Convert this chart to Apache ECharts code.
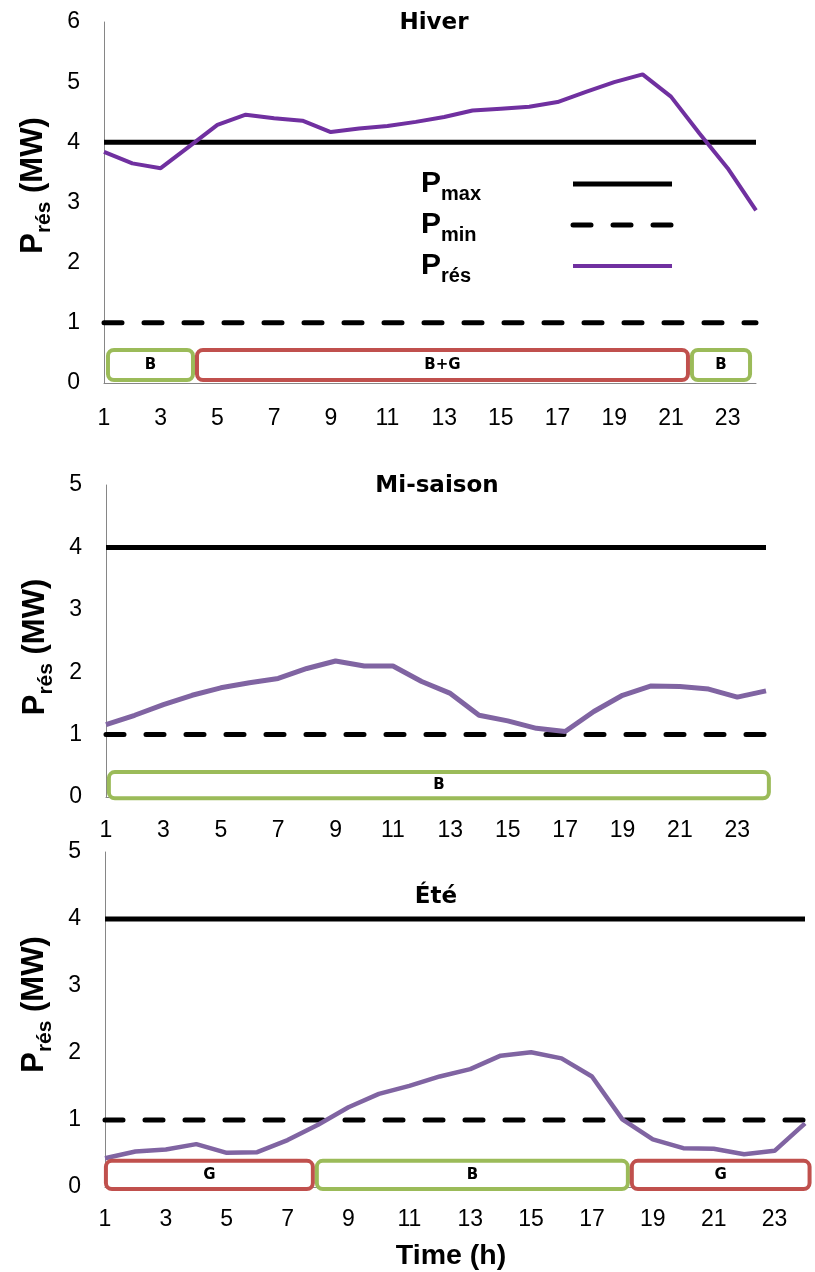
<!DOCTYPE html>
<html>
<head>
<meta charset="utf-8">
<script src="https://cdn.jsdelivr.net/npm/echarts@6/dist/echarts.min.js"></script>
<style>
html,body{margin:0;padding:0;background:#fff;}
#chart{width:815px;height:1272px;}
</style>
</head>
<body>
<div id="chart"></div>
<script>
// ---------- data ----------
const hours = ['1','2','3','4','5','6','7','8','9','10','11','12','13','14','15','16','17','18','19','20','21','22','23','24'];
const pMax = [4,4,4,4,4,4,4,4,4,4,4,4,4,4,4,4,4,4,4,4,4,4,4,4];
const pMin = [1,1,1,1,1,1,1,1,1,1,1,1,1,1,1,1,1,1,1,1,1,1,1,1];
const presHiver = [3.84,3.65,3.57,3.93,4.29,4.46,4.40,4.36,4.17,4.23,4.27,4.34,4.42,4.53,4.56,4.59,4.67,4.84,5.00,5.13,4.76,4.15,3.57,2.87];
const presMiSaison = [1.16,1.31,1.48,1.63,1.75,1.83,1.90,2.06,2.18,2.10,2.10,1.85,1.66,1.31,1.22,1.10,1.05,1.37,1.63,1.78,1.77,1.73,1.60,1.70];
const presEte = [0.43,0.53,0.56,0.64,0.51,0.52,0.70,0.93,1.19,1.39,1.51,1.65,1.76,1.96,2.01,1.92,1.65,1.01,0.71,0.58,0.57,0.49,0.54,0.95];
// periods [start hour, end hour, label]
const boxesHiver = [[1.14, 4.14, 'B'], [4.28, 21.6, 'B+G'], [21.74, 23.79, 'B']];
const boxesMiSaison = [[1.1, 24.1, 'B']];
const boxesEte = [[1.03, 7.83, 'G'], [7.96, 18.18, 'B'], [18.31, 24.15, 'G']];
const titles = ['Hiver', 'Mi-saison', 'Été'];
const yMaxes = [6, 5, 5];
const legendNames = ['Pmax', 'Pmin', 'Prés'];
const legendSubs = {'Pmax': 'max', 'Pmin': 'min', 'Prés': 'rés'};

// ---------- layout / style ----------
const ARIAL = "'Liberation Sans', Arial, sans-serif";
const TITLEFONT = "'DejaVu Sans', sans-serif";
const GREEN = '#9BBB59', RED = '#C0504D';
const panels = [
  {grid:{left:104, right:59, top:22, height:361}, title:{left:429, top:6}, purple:'#7030A0', pw:4, labelMargin:24, namePad:[0,0,0,34], boxY:[0.05,0.55], boxes:boxesHiver, pres:presHiver},
  {grid:{left:106, right:49, top:485, height:312}, title:{left:432, top:469}, purple:'#8064A2', pw:5, labelMargin:22, namePad:[0,12,0,0], boxY:[-0.02,0.40], boxes:boxesMiSaison, pres:presMiSaison},
  {grid:{left:105, right:10, top:852, height:335}, title:{left:431, top:880}, purple:'#8064A2', pw:4.5, labelMargin:21, namePad:[0,0,0,30], boxY:[-0.03,0.39], boxes:boxesEte, pres:presEte}
];

function boxRenderer(boxes, yLow, yHigh) {
  return function (params, api) {
    const b = boxes[params.dataIndex];
    const p0 = api.coord([b[0], yHigh]);
    const p1 = api.coord([b[1], yLow]);
    return {
      type: 'rect',
      shape: {x: p0[0], y: p0[1], width: p1[0] - p0[0], height: p1[1] - p0[1], r: 6},
      style: {fill: 'none', stroke: b[2] === 'B' ? GREEN : RED, lineWidth: 4},
      textContent: {style: {text: b[2], fontFamily: TITLEFONT, fontWeight: 'bold', fontSize: 15, fill: '#000'}},
      textConfig: {position: 'inside'}
    };
  };
}

const grids = [], xAxes = [], yAxes = [], series = [], titleOpts = [];
panels.forEach(function (p, i) {
  grids.push(p.grid);
  titleOpts.push({text: titles[i], left: p.title.left, top: p.title.top, textAlign: 'center',
    textStyle: {fontFamily: TITLEFONT, fontWeight: 'bold', fontSize: 23, lineHeight: 24, color: '#000'}});
  const cat = {
    type: 'category', gridIndex: i, data: hours, boundaryGap: false,
    axisLine: {show: true, lineStyle: {color: '#868686', width: 1}},
    axisTick: {show: false},
    axisLabel: {interval: 1, margin: p.labelMargin, fontFamily: ARIAL, fontSize: 23, color: '#000'},
    splitLine: {show: false}
  };
  if (i === 2) {
    cat.name = 'Time (h)';
    cat.nameLocation = 'middle';
    cat.nameGap = 55;
    cat.nameTextStyle = {fontFamily: ARIAL, fontWeight: 'bold', fontSize: 28.5, color: '#000', padding: [0, 8, 0, 0]};
  }
  xAxes.push(cat);
  xAxes.push({type: 'value', gridIndex: i, min: 1, max: 24, show: false});
  yAxes.push({
    type: 'value', gridIndex: i, min: 0, max: yMaxes[i], interval: 1,
    axisLine: {show: true, lineStyle: {color: '#868686', width: 1}},
    axisTick: {show: false},
    splitLine: {show: false},
    axisLabel: {margin: 24, fontFamily: ARIAL, fontSize: 23, color: '#000'},
    name: '{p|P}{s|rés}{p| (MW)}',
    nameLocation: 'middle',
    nameGap: 49,
    nameTextStyle: {
      padding: p.namePad,
      rich: {
        p: {fontFamily: ARIAL, fontWeight: 'bold', fontSize: 31, lineHeight: 34, verticalAlign: 'middle', color: '#000'},
        s: {fontFamily: ARIAL, fontWeight: 'bold', fontSize: 21, lineHeight: 44, verticalAlign: 'bottom', color: '#000'}
      }
    }
  });
  series.push({
    name: 'Pmax', type: 'line', xAxisIndex: 2 * i, yAxisIndex: i, data: pMax,
    symbol: 'none', silent: true, color: '#000',
    lineStyle: {color: '#000', width: 5}, z: 3
  });
  series.push({
    name: 'Pmin', type: 'line', xAxisIndex: 2 * i, yAxisIndex: i, data: pMin,
    symbol: 'none', silent: true, color: '#000',
    lineStyle: {color: '#000', width: 5, type: [18, 22], cap: 'round'}, z: 3
  });
  series.push({
    name: 'Prés', type: 'line', xAxisIndex: 2 * i, yAxisIndex: i, data: p.pres,
    symbol: 'none', silent: true, color: p.purple,
    lineStyle: {color: p.purple, width: p.pw}, z: 4
  });
  series.push({
    name: 'periods' + i, type: 'custom', xAxisIndex: 2 * i + 1, yAxisIndex: i,
    data: p.boxes.map(function (b) { return [b[0], b[1]]; }),
    renderItem: boxRenderer(p.boxes, p.boxY[0], p.boxY[1]), silent: true, z: 5
  });
});

const hiddenSymbol = {color: 'rgba(0,0,0,0)', borderWidth: 0, opacity: 0};
const chart = echarts.init(document.getElementById('chart'), null, {renderer: 'canvas'});
chart.setOption({
  animation: false,
  backgroundColor: '#fff',
  title: titleOpts,
  grid: grids,
  xAxis: xAxes,
  yAxis: yAxes,
  legend: {
    data: [
      {name: legendNames[0], lineStyle: {width: 5}, itemStyle: hiddenSymbol},
      {name: legendNames[1], lineStyle: {width: 5}, itemStyle: hiddenSymbol},
      {name: legendNames[2], lineStyle: {width: 4}, itemStyle: hiddenSymbol}
    ],
    orient: 'vertical', left: 416, top: 164, align: 'right',
    itemWidth: 99, itemHeight: 14, itemGap: 5.5, selectedMode: false,
    formatter: function (n) { return '{p|P}{s|' + legendSubs[n] + '}'; },
    textStyle: {
      rich: {
        p: {fontFamily: ARIAL, fontWeight: 'bold', fontSize: 30, lineHeight: 30, verticalAlign: 'middle', align: 'left', color: '#000'},
        s: {fontFamily: ARIAL, fontWeight: 'bold', fontSize: 20, lineHeight: 41, verticalAlign: 'bottom', width: 127, align: 'left', color: '#000'}
      }
    }
  },
  series: series
});
</script>
</body>
</html>
